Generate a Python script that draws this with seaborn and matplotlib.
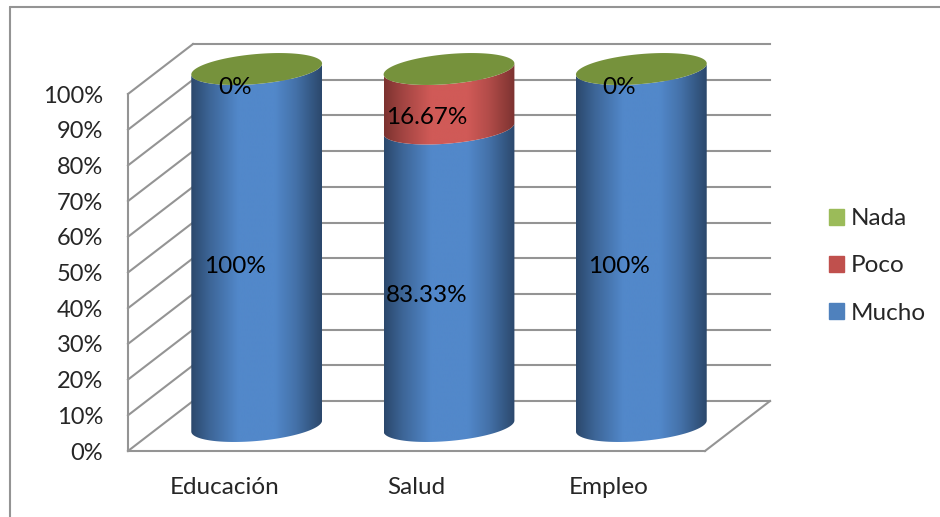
import numpy as np
import matplotlib
matplotlib.use("Agg")
import matplotlib.pyplot as plt
import seaborn as sns
from matplotlib.patches import Patch, PathPatch
from matplotlib.path import Path

categories = ["Educación", "Salud", "Empleo"]
mucho = [100, 83.33, 100]
poco = [0, 16.67, 0]
nada = [0, 0, 0]
mucho_labels = ["100%", "83.33%", "100%"]
poco_labels = ["", "16.67%", ""]
nada_labels = ["0%", "", "0%"]
series_names = ["Nada", "Poco", "Mucho"]
y_ticks = [0, 10, 20, 30, 40, 50, 60, 70, 80, 90, 100]

sns.set_style("white")
plt.rcParams["font.family"] = ["Lato", "DejaVu Sans"]
FS = 17.5
GRAY = "#949494"
BLUE = "#4f81bd"
RED = "#c0504d"
GREEN = "#9bbb59"

W, H = 940, 517
fig = plt.figure(figsize=(W / 100, H / 100), dpi=100)
ax = fig.add_axes([128 / W, (H - 451) / H, 577 / W, 357 / H])

# depth of the 3d box, in data units
dx = 0.338
dy = 14

bar_w = 0.68
sns.barplot(x=categories, y=mucho, color=BLUE, width=bar_w, errorbar=None, ax=ax)
sns.barplot(x=categories, y=poco, bottom=mucho, color=RED, width=bar_w, errorbar=None, ax=ax)
tops = [a + b for a, b in zip(mucho, poco)]
sns.barplot(x=categories, y=nada, bottom=tops, color=GREEN, width=bar_w, errorbar=None, ax=ax)
bars = list(ax.patches)
for b in bars:
    b.set_visible(False)

ax.set_xlim(-0.5, 2.5)
ax.set_ylim(0, 100)
x0, x1 = -0.5, 2.5


def wall(xs, ys):
    ax.plot(xs, ys, color=GRAY, lw=1.5, clip_on=False, zorder=1, solid_capstyle="projecting")


# back wall and side wall
for v in y_ticks:
    wall([x0 + dx, x1 + dx], [v + dy, v + dy])
    wall([x0, x0 + dx], [v, v + dy])
wall([x0, x0], [0, 100])
wall([x0, x1], [0, 0])
wall([x1, x1 + dx], [0, dy])

# ellipse shape of the cylinders
b_y = 4.2
s_y = 1.54


def arc(cx, cy, half, t):
    return cx + half * np.cos(t), cy + b_y * np.sin(t) + s_y * np.cos(t)


def gradient(mid, edge):
    stops = [0, 0.14, 0.36, 0.64, 0.8, 1]
    amount = [1, 0.55, 0, 0, 0.35, 1]
    c0 = np.array(matplotlib.colors.to_rgb(mid))
    c1 = np.array(matplotlib.colors.to_rgb(edge))
    t = np.interp(np.linspace(0, 1, 256), stops, amount)
    return (c0[None, :] * (1 - t[:, None]) + c1[None, :] * t[:, None])[None, :, :]


grads = {0: gradient("#5288ca", "#2b486c"), 1: gradient("#d05a57", "#7c3230")}

n = len(categories)
for i, b in enumerate(bars):
    s = i // n
    if b.get_height() == 0:
        continue
    cx = b.get_x() + b.get_width() / 2 + dx / 2
    half = b.get_width() / 2
    lo = b.get_y() + dy / 2
    hi = lo + b.get_height()
    t = np.linspace(np.pi, 2 * np.pi, 80)
    xa, ya = arc(cx, lo, half, t)
    xb, yb = arc(cx, hi, half, t[::-1])
    verts = np.column_stack([np.r_[xa, xb], np.r_[ya, yb]])
    poly = PathPatch(Path(np.vstack([verts, verts[:1]]), closed=True), fc="none", ec="none",
                     transform=ax.transData, clip_on=False)
    ax.add_patch(poly)
    im = ax.imshow(grads[s], extent=[cx - half, cx + half, lo - 8, hi + 8], aspect="auto",
                   zorder=3 + s, interpolation="bilinear")
    im.set_clip_box(fig.bbox)
    im.set_clip_path(poly)

# flat green top of each cylinder
for b in bars[2 * n:]:
    cx = b.get_x() + b.get_width() / 2 + dx / 2
    t = np.linspace(0, 2 * np.pi, 160)
    xt, yt = arc(cx, b.get_y() + dy / 2, b.get_width() / 2, t)
    ax.fill(xt, yt, color="#76923c", lw=0, zorder=6, clip_on=False)

# value labels
labels = mucho_labels + poco_labels + nada_labels
for b, lab in zip(bars, labels):
    if lab == "":
        continue
    xm = b.get_x() + b.get_width() / 2 + 0.16 * dx
    ym = b.get_y() + b.get_height() / 2 + 0.13 * dy
    ax.text(xm, ym, lab, ha="center", va="center", fontsize=FS, color="black", zorder=8)

ax.set_xlim(x0, x1)
ax.set_ylim(0, 100)
ax.set_yticks(y_ticks)
ax.set_yticklabels([f"{v}%" for v in y_ticks], fontsize=17)
ax.set_xticks(range(n))
ax.set_xticklabels(categories, fontsize=FS)
ax.tick_params(axis="y", length=0, pad=18)
ax.tick_params(axis="x", length=0, pad=19)
ax.patch.set_alpha(0)
sns.despine(ax=ax, left=True, bottom=True)

handles = [Patch(color=GREEN), Patch(color=RED), Patch(color=BLUE)]
fig.legend(handles, series_names, loc="center left",
           bbox_to_anchor=(829 / W, (H - 266) / H), frameon=False, fontsize=FS,
           handlelength=0.62, handleheight=0.62, handletextpad=0.29, labelspacing=1.08,
           borderpad=0, borderaxespad=0)

# border around the chart, cut off at the right and bottom
fig.add_artist(plt.Line2D([10 / W, 10 / W], [0, (H - 7) / H], color=GRAY, lw=1.5))
fig.add_artist(plt.Line2D([10 / W, 1], [(H - 7) / H, (H - 7) / H], color=GRAY, lw=1.5))

fig.savefig("out.png", dpi=100)
